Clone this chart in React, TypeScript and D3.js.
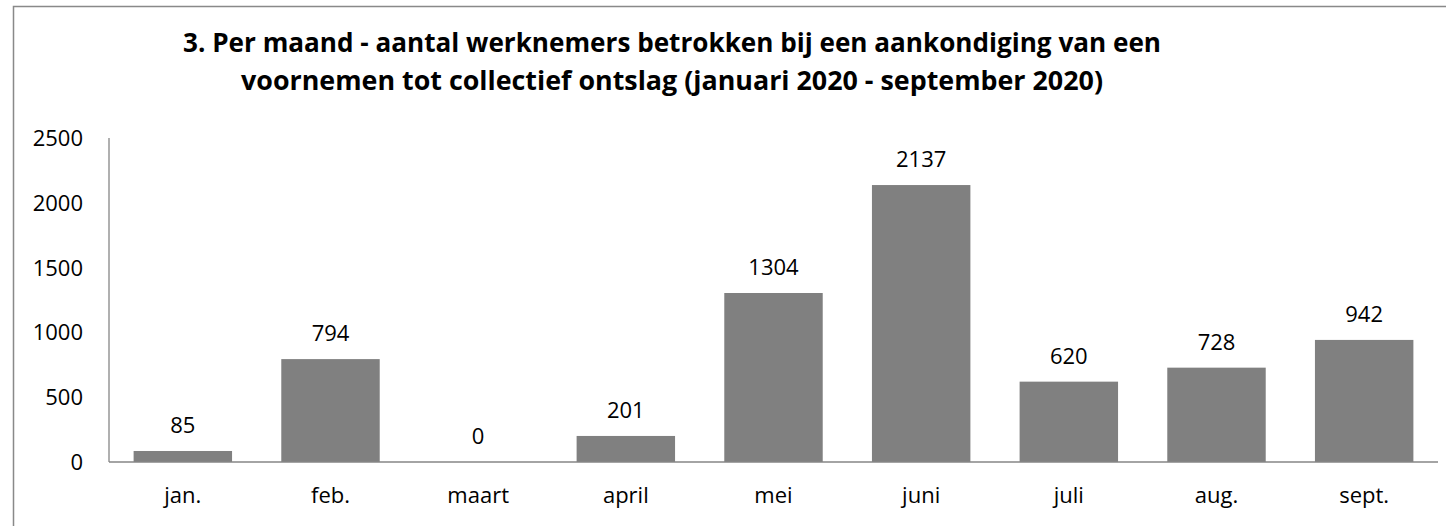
import React from "react";
import * as d3 from "d3";

const categories = ["jan.", "feb.", "maart", "april", "mei", "juni", "juli", "aug.", "sept."];
const values = [85, 794, 0, 201, 1304, 2137, 620, 728, 942];
const yTicks = [0, 500, 1000, 1500, 2000, 2500];
const titleLines = [
  "3. Per maand - aantal werknemers betrokken bij een aankondiging van een",
  "voornemen tot collectief ontslag (januari 2020 - september 2020)",
];

const W = 1446;
const H = 526;
const plot = { left: 109, right: 1438, top: 138, bottom: 462 };
const FONT = "'Open Sans', 'Noto Sans', sans-serif";

export default function App() {
  const x = d3
    .scaleBand<string>()
    .domain(categories)
    .range([plot.left, plot.right])
    .paddingInner(1 / 3)
    .paddingOuter(1 / 6);
  const y = d3.scaleLinear().domain([0, 2500]).range([plot.bottom, plot.top]);

  return (
    <svg
      width={W}
      height={H}
      style={{ position: "absolute", left: 0, top: 0, display: "block", background: "#fff" }}
    >
      <rect x={13.5} y={6.5} width={W} height={H} fill="#fff" stroke="#898989" strokeWidth={1.5} />
      {titleLines.map((t, i) => (
        <text
          key={i}
          x={672}
          y={52 + i * 38}
          textAnchor="middle"
          fontFamily={FONT}
          fontWeight="bold"
          fontSize={27}
          fill="#000"
          textLength={i === 0 ? 978 : 862}
          lengthAdjust="spacingAndGlyphs"
        >
          {t}
        </text>
      ))}
      {yTicks.map((t) => (
        <text
          key={t}
          x={83}
          y={y(t)}
          dy="0.36em"
          textAnchor="end"
          fontFamily={FONT}
          fontSize={22}
          fill="#000"
        >
          {t}
        </text>
      ))}
      {categories.map((c, i) => (
        <g key={c}>
          <rect
            x={x(c)!}
            y={y(values[i])}
            width={x.bandwidth()}
            height={plot.bottom - y(values[i])}
            fill="#808080"
          />
          <text
            x={x(c)! + x.bandwidth() / 2}
            y={y(values[i]) - 18}
            textAnchor="middle"
            fontFamily={FONT}
            fontSize={22}
            fill="#000"
          >
            {values[i]}
          </text>
          <text
            x={x(c)! + x.bandwidth() / 2}
            y={503}
            textAnchor="middle"
            fontFamily={FONT}
            fontSize={22}
            fill="#000"
          >
            {c}
          </text>
        </g>
      ))}
      <line x1={plot.left} x2={plot.left} y1={plot.top} y2={plot.bottom} stroke="#868686" strokeWidth={1.3} />
      <line x1={plot.left} x2={plot.right} y1={plot.bottom} y2={plot.bottom} stroke="#868686" strokeWidth={1.3} />
    </svg>
  );
}
